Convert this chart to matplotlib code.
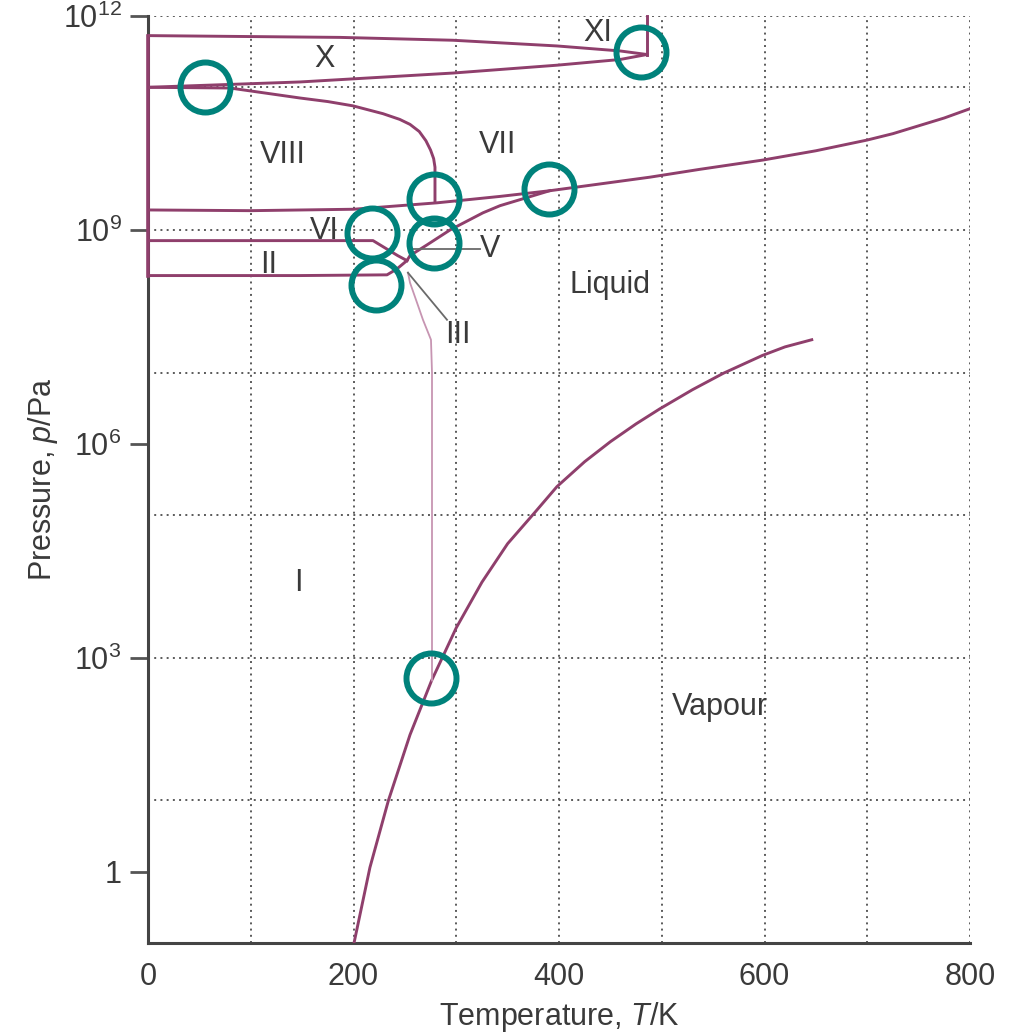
import numpy as np
import matplotlib
matplotlib.use('Agg')
import matplotlib.pyplot as plt

plt.rcParams['font.family'] = ['Liberation Sans', 'DejaVu Sans']
plt.rcParams['mathtext.fontset'] = 'custom'
plt.rcParams['mathtext.rm'] = 'Liberation Sans'
plt.rcParams['mathtext.it'] = 'Liberation Sans:italic'

# ---------------- data (T in K, log10 of p in Pa) ----------------
vap_T = [200.5, 216, 234, 255, 276, 300, 325, 350, 376.6, 398, 425, 450, 475, 498,
         530, 560, 598, 620, 646]
vap_logp = [-1.0, 0.06, 1.0, 1.92, 2.68, 3.42, 4.06, 4.6, 5.04, 5.40, 5.75, 6.03, 6.28, 6.49,
            6.76, 6.99, 7.24, 7.36, 7.46]

melt1_T = [276.4, 276.4, 275.4, 267.6, 261.8, 255, 253]
melt1_logp = [2.68, 7.0, 7.46, 7.74, 7.98, 8.26, 8.40]

hp_T = [0, 100, 200, 281.3, 342.6, 391.2, 440, 488.6, 537.2, 598.5, 650, 699.8, 725, 750, 775, 800]
hp_logp = [9.28, 9.27, 9.29, 9.38, 9.47, 9.55, 9.645, 9.74, 9.85, 9.98, 10.11, 10.26, 10.35,
           10.46, 10.57, 10.70]

v78_T = [0, 79.8, 147.9, 175, 199.5, 228.7, 245, 255, 264, 270.5, 275, 278, 279.3, 279.3]
v78_logp = [11.0, 10.99, 10.85, 10.80, 10.74, 10.63, 10.55, 10.48, 10.38, 10.25, 10.12, 10.0, 9.88, 9.40]

xlow_T = [0, 147.9, 296.8, 398, 459.4, 485.6]
xlow_logp = [11.0, 11.075, 11.2, 11.31, 11.39, 11.46]

xup_T = [0, 186.9, 296.8, 398, 459.4, 485.6]
xup_logp = [11.725, 11.70, 11.66, 11.58, 11.51, 11.46]

xi_T = [485.6, 485.6]
xi_logp = [11.46, 12.0]

edge_T = [0, 0]
edge_logp = [8.36, 11.725]

i2_T = [0, 148, 232.6, 242, 252]
i2_logp = [8.36, 8.36, 8.37, 8.45, 8.57]

ii6_T = [0, 150, 219, 243, 252]
ii6_logp = [8.85, 8.85, 8.85, 8.64, 8.57]

v6l_T = [252, 255, 271.5, 294, 326, 342.6, 391]
v6l_logp = [8.57, 8.64, 8.79, 9.0, 9.24, 9.34, 9.55]

leadV_T = [257.9, 323]
leadV_logp = [8.73, 8.73]
leadIII_T = [253, 291]
leadIII_logp = [8.40, 7.74]

circ_T = [55.5, 480, 278.3, 390, 218, 278.3, 222, 275.4]
circ_logp = [11.01, 11.5, 9.44, 9.58, 8.96, 8.82, 8.23, 2.72]

phase_labels = ['X', 'XI', 'VIII', 'VII', 'VI', 'II', 'V', 'Liquid', 'III', 'I', 'Vapour']
label_T = [172, 438, 131, 340.6, 172, 117, 333, 450, 302, 146, 557]
label_logp = [11.39, 11.76, 10.05, 10.19, 8.99, 8.51, 8.73, 8.23, 7.53, 4.05, 2.31]

xticks = [0, 200, 400, 600, 800]
ytick_exp = [0, 3, 6, 9, 12]
ytick_labels = ['1', r'$\mathregular{10^{3}}$', r'$\mathregular{10^{6}}$',
                r'$\mathregular{10^{9}}$', r'$\mathregular{10^{12}}$']
xgrid = [100, 200, 300, 400, 500, 600, 700, 800]
ygrid_exp = [1, 3, 5, 7, 9, 11, 12]

# ---------------- styles ----------------
LINE = '#8f3f6c'
LIGHT = '#c795b2'
TEXT = '#3a3a3a'
GRID = '#5a5a5a'
TEAL = '#00827b'

def P(lp):
    return [10.0 ** v for v in lp]

fig = plt.figure(figsize=(10.09, 10.33), dpi=100)
ax = fig.add_axes([148 / 1009, 1 - 943 / 1033, 822 / 1009, 927 / 1033])
ax.set_yscale('log')
ax.set_xlim(0, 800)
ax.set_ylim(1e-1, 1e12)

for g in xgrid:
    ax.axvline(g, color=GRID, lw=1.4, ls=(0, (1, 2.2)), zorder=1)
for g in ygrid_exp:
    ax.axhline(10.0 ** g, color=GRID, lw=1.4, ls=(0, (1, 2.2)), zorder=1)

lw = 2.1
ax.plot(vap_T, P(vap_logp), color=LINE, lw=lw, zorder=3)
ax.plot(melt1_T, P(melt1_logp), color=LIGHT, lw=1.3, zorder=3)
ax.plot(hp_T, P(hp_logp), color=LINE, lw=lw, zorder=3)
ax.plot(v78_T, P(v78_logp), color=LINE, lw=lw, zorder=3)
ax.plot(xlow_T, P(xlow_logp), color=LINE, lw=lw, zorder=3)
ax.plot(xup_T, P(xup_logp), color=LINE, lw=lw, zorder=3)
ax.plot(xi_T, P(xi_logp), color=LINE, lw=lw, zorder=3, clip_on=False)
ax.plot(edge_T, P(edge_logp), color=LINE, lw=2.6, zorder=4, clip_on=False)
ax.plot(i2_T, P(i2_logp), color=LINE, lw=lw, zorder=3)
ax.plot(ii6_T, P(ii6_logp), color=LINE, lw=lw, zorder=3)
ax.plot(v6l_T, P(v6l_logp), color=LINE, lw=lw, zorder=3)
ax.plot(leadV_T, P(leadV_logp), color='#6a6a6a', lw=1.3, zorder=3)
ax.plot(leadIII_T, P(leadIII_logp), color='#6a6a6a', lw=1.3, zorder=3)

for s, t, lp in zip(phase_labels, label_T, label_logp):
    ax.text(t, 10.0 ** lp, s, fontsize=22, color=TEXT, ha='center', va='center', zorder=5)

ax.plot(circ_T, P(circ_logp), ls='none', marker='o', ms=36, mfc='none',
        mec=TEAL, mew=4.3, zorder=6, clip_on=False)

for side in ['top', 'right']:
    ax.spines[side].set_visible(False)
for side in ['left', 'bottom']:
    ax.spines[side].set_color('#444444')
    ax.spines[side].set_linewidth(2.2)

ax.set_xticks(xticks)
ax.set_xticklabels([str(v) for v in xticks])
ax.set_yticks([10.0 ** e for e in ytick_exp])
ax.set_yticklabels(ytick_labels)
ax.yaxis.set_minor_locator(matplotlib.ticker.NullLocator())
ax.tick_params(axis='x', length=0, pad=14, labelsize=22, labelcolor=TEXT)
ax.tick_params(axis='y', length=13, width=2, color='#555555', pad=6,
               labelsize=22, labelcolor=TEXT, direction='out')

ax.set_xlabel(r'Temperature, $\mathit{T}$/K', fontsize=22, color=TEXT)
ax.set_ylabel(r'Pressure, $\mathit{p}$/Pa', fontsize=22, color=TEXT)
ax.xaxis.set_label_coords(0.5, -0.0615)
ax.yaxis.set_label_coords(-0.107, 0.5)

fig.savefig('out.png', dpi=100, facecolor='white')
